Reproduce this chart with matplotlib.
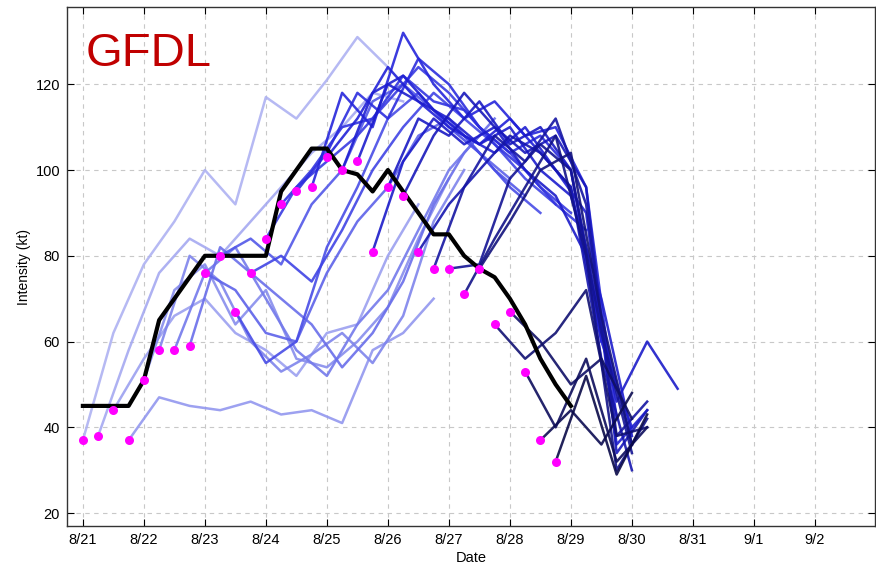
import numpy as np
import matplotlib.pyplot as plt
from matplotlib.colors import LinearSegmentedColormap

plt.rcParams['font.family'] = ['Liberation Sans', 'DejaVu Sans']

# x axis: days after 8/21 00Z
date_labels = ['8/21', '8/22', '8/23', '8/24', '8/25', '8/26', '8/27',
               '8/28', '8/29', '8/30', '8/31', '9/1', '9/2']

# observed intensity, every 6 h from 8/21 00Z
bt_days = np.arange(33) * 0.25
bt_kt = [45, 45, 45, 45, 51, 65, 70, 75, 80, 80, 80, 80, 80, 95, 100, 105,
         105, 100, 99, 95, 100, 95, 90, 85, 85, 80, 77, 75, 70, 64, 56, 50, 45]

# forecast start times (every 6 h) and initial intensities
init_days = np.arange(32) * 0.25
init_kt = [37, 38, 44, 37, 51, 58, 58, 59, 76, 80, 67, 76, 84, 92, 95, 96,
           103, 100, 102, 81, 96, 94, 81, 77, 77, 71, 77, 64, 67, 53, 37, 32]

# forecast intensities, 12-hourly from each start time
fc_kt = [
    [37, 62, 78, 88, 100, 92, 117, 112, 121, 131, 124],
    [38, 58, 76, 84, 80, 88, 96, 104, 110, 118, 116],
    [44, 56, 66, 70, 62, 58, 52, 62, 64, 80, 92],
    [37, 47, 45, 44, 46, 43, 44, 41, 58, 62, 70],
    [51, 72, 78, 64, 72, 56, 54, 60, 68, 84, 98],
    [58, 80, 74, 60, 53, 57, 62, 55, 66, 88, 100],
    [58, 76, 82, 70, 58, 52, 64, 72, 86, 100, 108],
    [59, 82, 76, 70, 64, 54, 62, 74, 92, 104, 112],
    [76, 72, 62, 60, 76, 88, 96, 108, 112, 104, 98],
    [80, 84, 78, 92, 100, 116, 120, 114, 108, 100, 94],
    [67, 55, 60, 82, 96, 112, 118, 110, 104, 96, 90],
    [76, 80, 74, 86, 100, 110, 118, 112, 106, 98, 92],
    [84, 96, 102, 108, 116, 124, 118, 110, 104, 96, 90],
    [92, 100, 110, 112, 122, 116, 114, 106, 100, 92, 86],
    [95, 104, 118, 112, 126, 120, 110, 104, 108, 100, 60],
    [96, 118, 110, 132, 120, 112, 116, 108, 110, 96, 42],
    [103, 112, 124, 116, 110, 106, 112, 104, 96, 60, 40],
    [100, 118, 122, 114, 108, 104, 110, 100, 90, 36, 44],
    [102, 120, 116, 112, 106, 110, 100, 94, 70, 38],
    [81, 102, 112, 106, 110, 100, 94, 80, 46, 60, 49],
    [96, 112, 108, 116, 106, 110, 100, 64, 36],
    [94, 108, 118, 110, 104, 108, 96, 34, 44],
    [81, 92, 100, 108, 104, 96, 56, 30],
    [77, 96, 108, 102, 112, 92, 38, 46],
    [77, 78, 98, 106, 100, 62, 34],
    [71, 84, 96, 108, 80, 30, 42],
    [77, 88, 100, 104, 66, 36],
    [64, 56, 62, 72, 38, 40],
    [67, 60, 50, 56, 42],
    [53, 40, 56, 32, 40],
    [37, 44, 36, 48],
    [32, 52, 29, 43],
]

cmap = LinearSegmentedColormap.from_list(
    'fc', ['#aeb2f2', '#7c82ec', '#4448e6', '#2222da', '#1818c0',
           '#12127e', '#0a0a48'])

fig = plt.figure(figsize=(8.76, 5.69), dpi=100)
ax = fig.add_axes([0.0765, 0.0756, 0.922, 0.912])

for i, vals in enumerate(fc_kt):
    t = init_days[i] + 0.5 * np.arange(len(vals))
    ax.plot(t, vals, color=cmap(i / (len(fc_kt) - 1)), lw=1.8,
            alpha=0.9, zorder=2)

ax.plot(bt_days, bt_kt, color='black', lw=3, zorder=3)
ax.plot(init_days, init_kt, 'o', color='#ff00ff', ms=6.5, mec='none', zorder=4)

ax.set_xlim(-0.26, 12.98)
ax.set_ylim(17, 138)
ax.set_xticks(np.arange(len(date_labels)))
ax.set_xticklabels(date_labels)
ax.set_yticks([20, 40, 60, 80, 100, 120])
ax.grid(True, color='#c8c8c8', ls=(0, (4, 4)), lw=0.8)
ax.tick_params(direction='in', top=True, right=True, length=5,
               labelsize=10.5, pad=5)
for s in ax.spines.values():
    s.set_color('#333333')
    s.set_linewidth(1)

ax.set_xlabel('Date', fontsize=10.5, labelpad=3)
ax.set_ylabel('Intensity (kt)', fontsize=10, labelpad=3)

fig.text(86 / 876, 1 - 66 / 569, 'GFDL', fontsize=34, color='#c00000',
         va='baseline')

fig.savefig('out.png', dpi=100)
